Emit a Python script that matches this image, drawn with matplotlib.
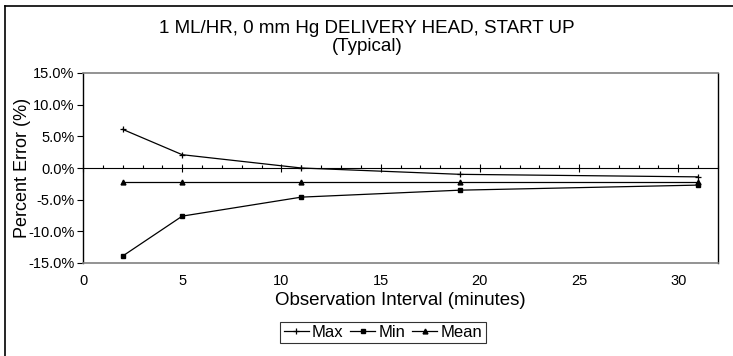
import matplotlib
matplotlib.use("Agg")
import matplotlib.pyplot as plt
from matplotlib.ticker import MultipleLocator, FuncFormatter, NullFormatter
from matplotlib.lines import Line2D

plt.rcParams['font.family'] = ['Liberation Sans', 'DejaVu Sans']

# Observation intervals (minutes) and percent errors
interval = [2, 5, 11, 19, 31]
max_err = [6.1, 2.1, 0.0, -1.0, -1.4]
min_err = [-13.9, -7.6, -4.6, -3.5, -2.7]
mean_err = [-2.2, -2.2, -2.2, -2.2, -2.2]

title_lines = ["1 ML/HR, 0 mm Hg DELIVERY HEAD, START UP", "(Typical)"]

W, H = 733, 356
fig = plt.figure(figsize=(W / 100, H / 100), dpi=100)
ax = fig.add_axes([83 / W, 1 - 263 / H, (718 - 83) / W, (263 - 73) / H])

ax.plot(interval, max_err, color='black', lw=0.9, marker='+', ms=5, mew=0.9, label='Max')
ax.plot(interval, min_err, color='black', lw=0.9, marker='s', ms=3.5, label='Min')
ax.plot(interval, mean_err, color='black', lw=0.9, marker='^', ms=3.5, label='Mean')

ax.set_xlim(0, 32)
ax.set_ylim(-15, 15)
ax.yaxis.set_major_locator(MultipleLocator(5))
ax.yaxis.set_major_formatter(FuncFormatter(lambda v, p: f"{v:.1f}%"))
ax.xaxis.set_major_locator(MultipleLocator(5))

for side in ('top', 'bottom'):
    ax.spines[side].set_color('#808080')
    ax.spines[side].set_linewidth(1.2)
ax.spines['left'].set_color('black')
ax.spines['right'].set_color('black')
ax.spines['left'].set_linewidth(1.0)
ax.spines['right'].set_linewidth(1.0)

ax.tick_params(axis='x', length=0, pad=8, labelsize=10.5)
ax.tick_params(axis='y', direction='out', length=4, width=0.8, pad=2, labelsize=10.5)

# Horizontal axis line crossing at zero with its tick marks
zero_axis = ax.secondary_xaxis(0.5)
zero_axis.spines['bottom'].set_color('black')
zero_axis.spines['bottom'].set_linewidth(1.0)
zero_axis.xaxis.set_major_locator(MultipleLocator(5))
zero_axis.xaxis.set_minor_locator(MultipleLocator(1))
zero_axis.xaxis.set_major_formatter(NullFormatter())
zero_axis.xaxis.set_minor_formatter(NullFormatter())
zero_axis.tick_params(which='major', direction='inout', length=6, width=0.8)
zero_axis.tick_params(which='minor', direction='out', length=2.5, width=0.8)

ax.set_xlabel("Observation Interval (minutes)", fontsize=13.5, labelpad=3)
ax.set_ylabel("Percent Error (%)", fontsize=13)
ax.yaxis.set_label_coords((31 - 83) / (718 - 83), 0.5)

fig.text(367 / W, 1 - 33 / H, title_lines[0], ha='center', va='baseline', fontsize=13.5)
fig.text(367 / W, 1 - 51 / H, title_lines[1], ha='center', va='baseline', fontsize=13.5)

leg = fig.legend(loc='center', bbox_to_anchor=(383 / W, 1 - 332.5 / H), ncol=3,
                 fontsize=12, frameon=True, fancybox=False, edgecolor='black',
                 handlelength=1.5, handletextpad=0.2, columnspacing=0.4,
                 borderpad=0.2, borderaxespad=0)
leg.get_frame().set_linewidth(0.8)

# Outer chart border
fig.add_artist(Line2D([5 / W, 5 / W], [0, 1 - 6 / H], transform=fig.transFigure, color='black', lw=1.2))
fig.add_artist(Line2D([5 / W, 1], [1 - 6 / H, 1 - 6 / H], transform=fig.transFigure, color='black', lw=1.2))

fig.savefig("out.png", dpi=100)
